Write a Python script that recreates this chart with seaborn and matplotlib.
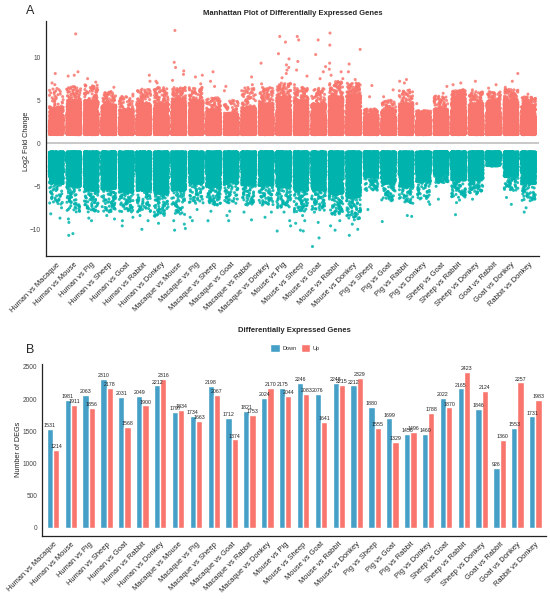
import numpy as np
import pandas as pd
import matplotlib
matplotlib.use("Agg")
import matplotlib.pyplot as plt
import seaborn as sns
from matplotlib.patches import Patch

# ---------------- data ----------------
comparisons = [
    "Human vs Macaque", "Human vs Mouse", "Human vs Pig", "Human vs Sheep",
    "Human vs Goat", "Human vs Rabbit", "Human vs Donkey", "Macaque vs Mouse",
    "Macaque vs Pig", "Macaque vs Sheep", "Macaque vs Goat", "Macaque vs Rabbit",
    "Macaque vs Donkey", "Mouse vs Pig", "Mouse vs Sheep", "Mouse vs Goat",
    "Mouse vs Rabbit", "Mouse vs Donkey", "Pig vs Sheep", "Pig vs Goat",
    "Pig vs Rabbit", "Pig vs Donkey", "Sheep vs Goat", "Sheep vs Rabbit",
    "Sheep vs Donkey", "Goat vs Rabbit", "Goat vs Donkey", "Rabbit vs Donkey",
]
down_counts = [1531, 1981, 2063, 2310, 2031, 2049, 2212, 1797, 1734, 2198, 1712, 1821,
               2024, 2175, 2246, 2076, 2248, 2212, 1880, 1699, 1456, 1460, 2022, 2165,
               1846, 926, 1553, 1731]
up_counts = [1214, 1911, 1856, 2178, 1568, 1900, 2316, 1834, 1663, 2067, 1374, 1753,
             2170, 2044, 2083, 1641, 2215, 2329, 1555, 1329, 1496, 1788, 1870, 2423,
             2124, 1360, 2257, 1983]

# Manhattan panel: upper edge of dense block, top of ragged fringe, visible outliers
up_body = [4.2, 5.0, 5.0, 4.4, 3.9, 4.6, 4.6, 5.2, 5.0, 3.9, 3.5, 4.2, 4.6, 5.4,
           5.0, 4.6, 5.4, 5.6, 3.3, 3.9, 4.6, 3.3, 4.0, 5.4, 4.6, 5.0, 5.0, 4.4]
up_tail = [6.4, 6.6, 6.8, 6.0, 5.5, 6.3, 6.5, 6.5, 6.5, 5.3, 5.0, 6.5, 6.5, 7.0,
           6.5, 6.4, 7.2, 7.0, 4.0, 5.0, 6.2, 3.8, 5.5, 6.2, 6.0, 6.0, 6.3, 5.4]
up_outliers = [
    [8.1, 7.0, 6.8], [12.7, 8.3, 7.9, 7.8], [7.5, 7.1], [6.5], [5.7], [7.9, 7.2],
    [7.2, 7.0], [13.1, 9.4, 8.8, 8.4, 8.0, 7.3], [7.9, 7.7, 6.9], [8.3, 7.2, 6.6],
    [6.6, 6.1], [7.7, 6.8], [9.3, 6.9],
    [12.4, 11.75, 10.4, 9.8, 9.1, 8.8, 8.5, 8.1, 7.6],
    [12.4, 12.0, 9.5, 8.5, 7.8, 6.8], [12.0, 10.3, 8.9, 8.3, 7.5],
    [12.8, 11.4, 9.3, 8.6, 8.3, 7.9, 7.5], [10.9, 9.2, 8.3, 7.4],
    [6.7, 5.4], [6.2, 5.4], [7.4, 7.2, 7.0], [4.6], [6.6, 5.8], [7.0, 6.8],
    [7.2, 6.2], [6.8, 6.4], [8.1, 7.2, 6.5], [5.7],
]
down_body = [-4.7, -5.1, -5.5, -5.3, -5.7, -5.5, -5.9, -5.5, -4.7, -5.1, -4.7, -4.9,
             -4.9, -5.1, -5.5, -5.5, -5.9, -6.3, -3.9, -4.7, -5.1, -4.5, -3.6, -4.3,
             -4.3, -2.55, -3.9, -4.7]
down_tail = [-7.1, -8.0, -8.0, -8.0, -8.0, -8.0, -8.5, -8.3, -7.0, -7.2, -7.0, -7.2,
             -7.2, -7.5, -8.0, -7.8, -8.3, -8.8, -5.5, -6.7, -7.0, -6.5, -4.6, -6.3,
             -5.8, -2.65, -5.5, -6.7]
down_outliers = [
    [-8.7, -8.2, -7.5], [-10.7, -10.5, -9.2, -8.8], [-9.0, -8.7], [-8.8, -8.4],
    [-9.6, -9.0, -8.6], [-10.0, -9.0, -8.4], [-9.3], [-10.1, -9.9, -9.4, -9.0],
    [-9.0, -8.6, -7.7], [-9.0, -7.9], [-9.0, -8.4, -7.9], [-8.9, -8.0], [-8.6, -8.0],
    [-10.2, -9.6, -9.0, -8.0], [-10.2, -10.1, -9.3, -9.0, -8.4],
    [-12.0, -11.0, -9.2, -8.0], [-10.1, -9.6, -9.0, -8.0], [-10.7, -10.0, -9.4, -8.9],
    [-7.7], [-9.1], [-8.4, -8.5], [-7.1, -6.8], [-6.5, -5.0], [-8.3, -6.9, -6.6],
    [-6.5, -5.9], [], [-7.1, -6.3], [-8.0, -7.5],
]
threshold = 1.0

# ---------------- build long tables ----------------
def column_values(n, body, tail, outliers, sign):
    n_body = max(n - len(outliers), 1)
    p = (np.arange(n_body) + 0.5) / n_body
    b, t = abs(body), abs(tail)
    anchors_p = [0.0, 0.5, 0.85, 0.975, 1.0]
    anchors_v = [threshold, threshold + 0.3 * (b - threshold),
                 threshold + 0.65 * (b - threshold), b, t]
    vals = np.interp(p, anchors_p, anchors_v) * sign
    return np.concatenate([vals, np.array(outliers, dtype=float)])

rows_c, rows_v, rows_d = [], [], []
for i, comp in enumerate(comparisons):
    uv = column_values(up_counts[i], up_body[i], up_tail[i], up_outliers[i], 1)
    dv = column_values(down_counts[i], down_body[i], down_tail[i], down_outliers[i], -1)
    rows_c += [comp] * (len(uv) + len(dv))
    rows_v += list(uv) + list(dv)
    rows_d += ["Up"] * len(uv) + ["Down"] * len(dv)
df_a = pd.DataFrame({"Comparison": rows_c, "log2FC": rows_v, "Direction": rows_d})

df_b = pd.DataFrame({
    "Comparison": comparisons * 2,
    "Count": down_counts + up_counts,
    "Direction": ["Down"] * len(comparisons) + ["Up"] * len(comparisons),
})

# ---------------- style ----------------
sns.set_theme(style="white")
plt.rcParams["font.family"] = ["Liberation Sans", "DejaVu Sans"]
np.random.seed(3)

W, H = 550, 604
fig = plt.figure(figsize=(W / 100, H / 100), dpi=100)

def px_axes(left, top, right, bottom):
    return fig.add_axes([left / W, 1 - bottom / H, (right - left) / W, (bottom - top) / H])

ax1 = px_axes(45.8, 21, 539, 256)
ax2 = px_axes(42.3, 364, 546, 535.7)

a_pal = {"Up": "#F8766D", "Down": "#00B3AD"}
b_pal = {"Down": "#459FC7", "Up": "#F8766D"}

# ---------------- Panel A ----------------
ax1.axhline(0, color="#C4C4C4", lw=1.3, zorder=0)
sns.stripplot(data=df_a, x="Comparison", y="log2FC", hue="Direction",
              order=comparisons, hue_order=["Up", "Down"], palette=a_pal,
              jitter=0.4, size=2.2, linewidth=0, alpha=0.85, legend=False, ax=ax1)
ax1.set_xlim(-0.6, len(comparisons) - 0.4)
ax1.set_ylim(-13.1, 14.2)
ax1.set_yticks([-10, -5, 0, 5, 10])
ax1.set_xlabel("")
ax1.set_ylabel("Log2 Fold Change", fontsize=5.2, color="#222222")
ax1.yaxis.set_label_coords(-0.033, 0.49)

# ---------------- Panel B ----------------
sns.barplot(data=df_b, x="Comparison", y="Count", hue="Direction",
            order=comparisons, hue_order=["Down", "Up"], palette=b_pal,
            width=0.7, errorbar=None, legend=False, saturation=1, ax=ax2)
for cont in ax2.containers:
    ax2.bar_label(cont, fontsize=3.8, padding=0.6, color="#222222")
ax2.set_xlim(-0.6, len(comparisons) - 0.4)
ax2.set_ylim(-121, 2544)
ax2.set_yticks([0, 500, 1000, 1500, 2000, 2500])
ax2.set_xlabel("")
ax2.set_ylabel("Number of DEGs", fontsize=5.2, color="#222222")
ax2.yaxis.set_label_coords(-0.041, 0.5)
handles = [Patch(facecolor=b_pal["Down"], label="Down"),
           Patch(facecolor=b_pal["Up"], label="Up")]
ax2.legend(handles=handles, loc="center", bbox_to_anchor=(0.502, 1.093), ncol=2,
           frameon=False, fontsize=4.0, handlelength=1.65, handleheight=1.65,
           columnspacing=0.8, handletextpad=0.5, borderaxespad=0)

# ---------------- shared axis styling ----------------
for ax in (ax1, ax2):
    for s in ("top", "right"):
        ax.spines[s].set_visible(False)
    for s in ("left", "bottom"):
        ax.spines[s].set_color("#222222")
        ax.spines[s].set_linewidth(0.9)
    ax.tick_params(axis="both", which="both", direction="out", length=2.2, width=0.6,
                   color="#333333", pad=1.5)
    ax.tick_params(axis="y", labelsize=4.7, labelcolor="#444444")
    ax.tick_params(axis="x", labelsize=5.4, labelcolor="#222222")
    ax.set_xticks(range(len(comparisons)))
    ax.set_xticklabels(comparisons, rotation=45, ha="right", va="top",
                       rotation_mode="anchor")
    ax.grid(False)

# ---------------- titles / panel letters ----------------
fig.text(292.5 / W, 1 - 13.5 / H, "Manhattan Plot of Differentially Expressed Genes",
         ha="center", va="center", fontsize=5.5, fontweight="bold")
fig.text(294 / W, 1 - 331 / H, "Differentially Expressed Genes",
         ha="center", va="center", fontsize=5.5, fontweight="bold")
fig.text(30 / W, 1 - 11.5 / H, "A", ha="center", va="center", fontsize=9)
fig.text(30.5 / W, 1 - 350 / H, "B", ha="center", va="center", fontsize=9)

fig.savefig("out.png", dpi=100, facecolor="white")
